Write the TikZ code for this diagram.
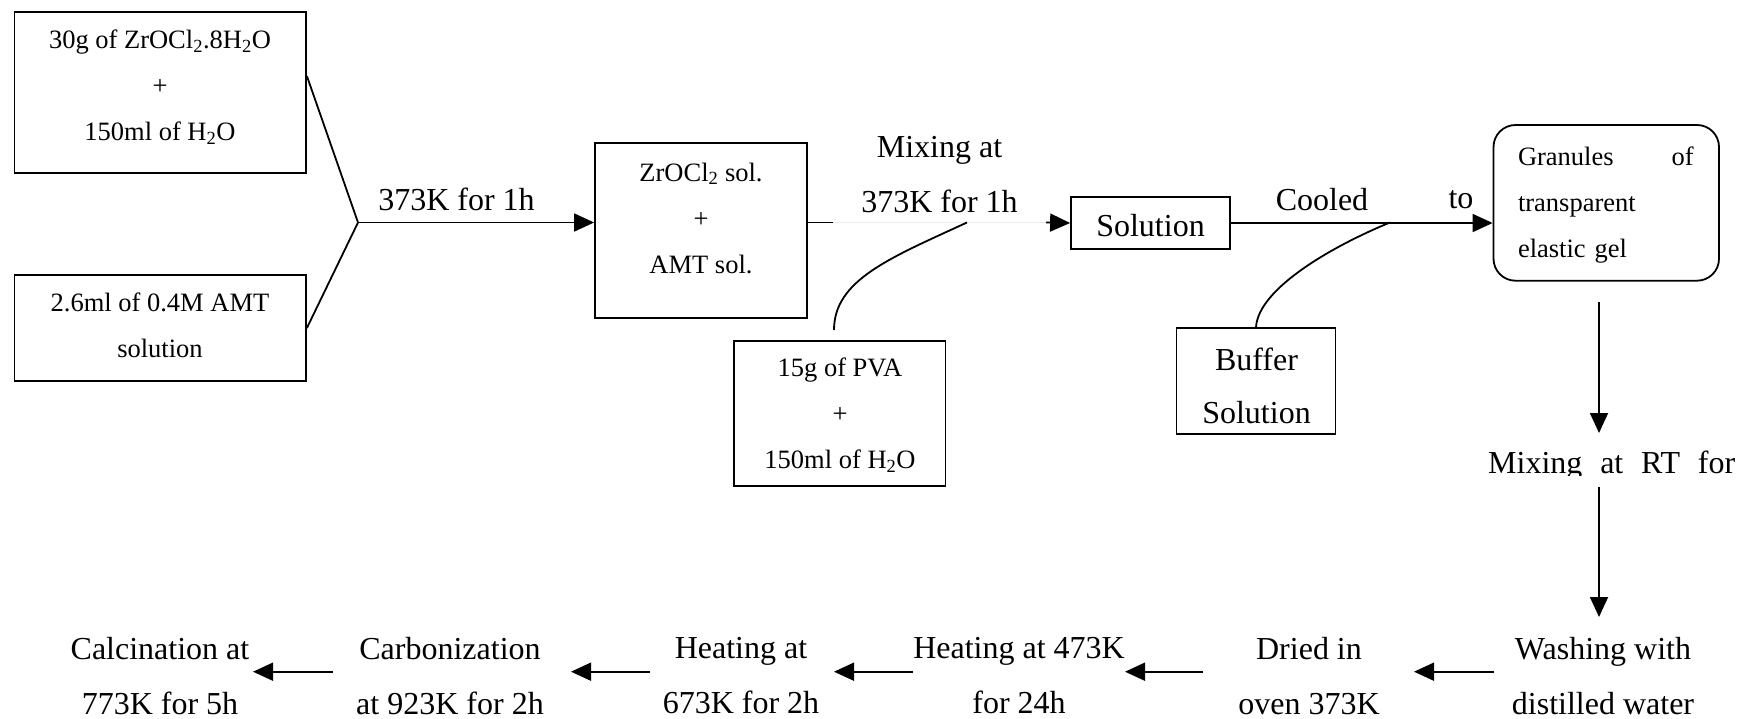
\documentclass[tikz,border=0pt]{standalone}
\usepackage{fontspec}
\setmainfont{Liberation Serif}
\usetikzlibrary{arrows.meta}
\begin{document}
\begin{tikzpicture}[x=1pt,y=-1pt,
  box/.style={draw, line width=1.8pt, inner sep=0pt},
  small/.style={font=\fontsize{26.5}{46}\selectfont, align=center, inner sep=0pt},
  big/.style={font=\fontsize{32}{55}\selectfont, align=center, inner sep=0pt},
  bigrow/.style={font=\fontsize{32}{55}\selectfont, align=center, inner sep=0pt},
  conn/.style={line width=1.8pt},
  arr/.style={line width=1.8pt, -{Triangle[length=20pt,width=18pt]}},
]
\useasboundingbox (0,0) rectangle (1742,719);

% left input boxes
\node[box, minimum width=291.5pt, minimum height=161.3pt] (b1) at (160.25,92.35) {};
\node[small] (t1) at (160,87) {30g of ZrOCl\textsubscript{2}.8H\textsubscript{2}O\\+\\150ml of H\textsubscript{2}O};
\node[box, minimum width=291.5pt, minimum height=106pt] (b2) at (160.25,328) {};
\node[small] (t2) at (160,325) {2.6ml of 0.4M AMT\\solution};

\coordinate (j) at (358,222.5);
\draw[conn] ([yshift=16.3pt]b1.east) -- (j);
\draw[conn] (b2.east) -- (j);

% box 3
\node[box, minimum width=212pt, minimum height=174.7pt] (b3) at (701,230.35) {};
\node[small] (t3) at (701,218) {ZrOCl\textsubscript{2} sol.\\+\\AMT sol.};
\draw[arr] (j) -- (j -| b3.west);
\node[big] (l1) at (456.5,199) {373K for 1h};

% solution box
\node[box, minimum width=159pt, minimum height=52.6pt] (sol) at (1150.5,223) {};
\node[font=\fontsize{32}{38}\selectfont, inner sep=0pt] (t7) at (1150.5,226) {Solution};
\coordinate (g1) at (833,222.5);
\coordinate (g2) at (1046,222.5);
\draw[conn] (b3.east |- j) -- (g1);
\draw[line width=1pt, black!8] (g1) -- (g2);
\draw[arr] (g2) -- (sol.west);
\node[big] (l2) at (939.5,174.5) {Mixing at\\373K for 1h};

% PVA box
\node[box, minimum width=211.5pt, minimum height=145pt] (pva) at (839.75,413.2) {};
\node[small] (t4) at (840,415) {15g of PVA\\+\\150ml of H\textsubscript{2}O};
\coordinate (p0) at (834,330);
\coordinate (m1) at (967,222.5);
\draw[conn] (p0) .. controls (834,280) and (890,258) .. (m1);

% gel box
\node[box, rounded corners=22pt, minimum width=225.5pt, minimum height=155.7pt] (gel) at (1606.25,202.85) {};
\node[small, align=left, text width=175.6pt] (t5) at (1605.8,205) {Granules\hfill of\\transparent\\elastic gel};
\draw[arr] (sol.east) -- (sol.east -| gel.west);
\node[big] (l3) at (1322,200) {Cooled};
\node[big] (l4) at (1461,200) {to};

% buffer box
\node[box, minimum width=159pt, minimum height=105.7pt] (buf) at (1256,381.15) {};
\node[big] (t6) at (1256.5,385.5) {Buffer\\[-2pt]Solution};
\coordinate (m2) at (1390,222.5);
\draw[conn] (buf.north) .. controls (1258,288) and (1335,245) .. (m2);

% down arrows
\coordinate (d0) at (1599,301.7);
\coordinate (d1) at (1599,433);
\draw[arr] (d0) -- (d1);
\begin{scope}
\clip (1480,430) rectangle (1742,475.5);
\node[big, anchor=base west] (mrt) at (1488,473) {\makebox[247pt][s]{Mixing at RT for}};
\end{scope}
\coordinate (d2) at (1599,486.7);
\coordinate (d3) at (1599,617);
\draw[arr] (d2) -- (d3);

% bottom row
\node[bigrow] (wash)  at (1603,676) {Washing with\\distilled water};
\node[bigrow] (dried) at (1309,676) {Dried in\\oven 373K};
\node[bigrow] (heat1) at (1019,676) {Heating at 473K\\for 24h};
\node[bigrow] (heat2) at (741,676) {Heating at\\673K for 2h};
\node[bigrow] (carb)  at (450,676) {Carbonization\\at 923K for 2h};
\node[bigrow] (calc)  at (160,676) {Calcination at\\773K for 5h};

\coordinate (a1s) at (1494,671.7); \coordinate (a1e) at (1414,671.7);
\coordinate (a2s) at (1203,671.7); \coordinate (a2e) at (1125,671.7);
\coordinate (a3s) at (913,671.7);  \coordinate (a3e) at (834,671.7);
\coordinate (a4s) at (650,671.7);  \coordinate (a4e) at (571,671.7);
\coordinate (a5s) at (333,671.7);  \coordinate (a5e) at (253,671.7);
\draw[arr] (a1s) -- (a1e);
\draw[arr] (a2s) -- (a2e);
\draw[arr] (a3s) -- (a3e);
\draw[arr] (a4s) -- (a4e);
\draw[arr] (a5s) -- (a5e);
\end{tikzpicture}
\end{document}
